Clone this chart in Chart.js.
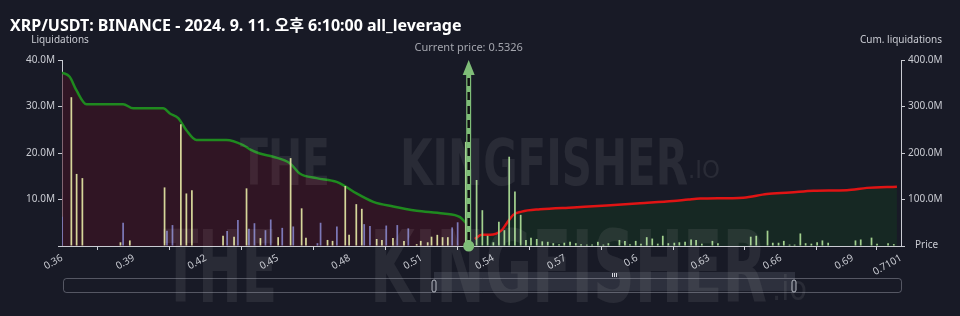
<!DOCTYPE html>
<html>
<head>
<meta charset="utf-8">
<script src="https://cdn.jsdelivr.net/npm/chart.js@4.4.1/dist/chart.umd.min.js"></script>
<style>
  html, body { margin: 0; padding: 0; background: #181a26; }
  #wrap { width: 960px; height: 316px; position: relative; }
</style>
</head>
<body>
<div id="wrap"><canvas id="liqChart"></canvas></div>
<script>
const chartTitle = 'XRP/USDT: BINANCE - 2024. 9. 11. 오후 6:10:00 all_leverage';
const currentPrice = 0.5326;
const markerPrice = 0.5297; // bin where the price arrow is drawn
const priceTicks = [0.36, 0.39, 0.42, 0.45, 0.48, 0.51, 0.54, 0.57, 0.6, 0.63, 0.66, 0.69, 0.7101];

// long liquidations (M)
const longPrices = [0.3639, 0.3661, 0.3685, 0.3844, 0.3883, 0.4028, 0.4096, 0.4119, 0.4142, 0.4272, 0.4318, 0.4370,
  0.4428, 0.4502, 0.4554, 0.4600, 0.4618, 0.4708, 0.4729, 0.4782, 0.4798, 0.4828, 0.4851, 0.4913, 0.4935, 0.4981,
  0.5027, 0.5080, 0.5097, 0.5126, 0.5142, 0.5166, 0.5188, 0.5210];
const longValues = [32.0, 15.5, 14.6, 0.8, 1.2, 12.6, 26.2, 11.3, 12.0, 2.2, 2.0, 12.4,
  1.7, 1.9, 18.9, 8.1, 1.8, 1.3, 1.1, 12.9, 2.4, 9.0, 8.0, 1.5, 1.3, 1.7,
  1.1, 0.4, 1.1, 0.8, 2.0, 2.4, 1.9, 1.9];

// high leverage long liquidations (M)
const highLevPrices = [0.3600, 0.3855, 0.4038, 0.4061, 0.4289, 0.4334, 0.4380, 0.4403, 0.4449, 0.4471, 0.4519,
  0.4565, 0.4666, 0.4679, 0.4747, 0.4861, 0.4885, 0.4953, 0.4999, 0.5045, 0.5228, 0.5251];
const highLevValues = [6.3, 5.0, 3.3, 4.5, 3.2, 5.6, 3.7, 4.9, 3.4, 5.7, 3.9,
  4.2, 0.6, 5.0, 4.2, 4.7, 4.3, 4.4, 4.5, 3.8, 4.0, 5.1];

// short liquidations (M)
const shortPrices = [0.5285, 0.5330, 0.5354, 0.5376, 0.5400, 0.5423, 0.5446, 0.5466, 0.5490, 0.5514, 0.5536, 0.5557,
  0.5581, 0.5604, 0.5627, 0.5650, 0.5674, 0.5696, 0.5720, 0.5744, 0.5766, 0.5790, 0.5812, 0.5836, 0.5859, 0.5880,
  0.5926, 0.5949, 0.5970, 0.5994, 0.6016, 0.6040, 0.6063, 0.6086, 0.6107, 0.6130, 0.6155, 0.6176, 0.6200, 0.6225,
  0.6246, 0.6270, 0.6314, 0.6337, 0.6474, 0.6497, 0.6544, 0.6566, 0.6590, 0.6612, 0.6636, 0.6657, 0.6681, 0.6703,
  0.6727, 0.6751, 0.6773, 0.6797, 0.6911, 0.6933, 0.6978, 0.7001, 0.7047, 0.7071];
const shortValues = [22.4, 14.2, 7.7, 2.2, 0.8, 5.2, 3.4, 19.2, 11.7, 6.7, 1.3, 1.8,
  1.5, 1.0, 0.9, 0.6, 0.4, 0.7, 0.9, 0.6, 0.4, 0.3, 0.3, 0.9, 0.3, 0.6,
  1.3, 1.1, 0.4, 1.1, 0.5, 1.9, 1.6, 0.5, 2.2, 0.6, 0.7, 0.8, 0.9, 1.4,
  1.3, 0.5, 1.1, 0.6, 2.0, 2.2, 3.3, 0.7, 0.7, 1.1, 0.3, 0.3, 2.7, 0.6,
  0.5, 0.8, 1.2, 0.7, 1.2, 1.4, 1.8, 0.5, 0.6, 0.4];

// cumulative liquidations (M)
const longCumPrices = [0.3600, 0.3632, 0.3660, 0.3702, 0.3855, 0.3897, 0.4022, 0.4050, 0.4085, 0.4119, 0.4161, 0.4286,
  0.4356, 0.4384, 0.4425, 0.4481, 0.4551, 0.4592, 0.4662, 0.4746, 0.4780, 0.4829, 0.4899, 0.4982, 0.5080, 0.5191,
  0.5261, 0.5286];
const longCumValues = [373, 364, 335, 305, 305, 296, 296, 285, 275, 249, 228, 228,
  217, 208, 199, 192, 178, 156, 146, 138, 129, 113, 95, 85, 76, 70,
  62, 49];
const shortCumPrices = [0.5323, 0.5351, 0.5386, 0.5435, 0.5456, 0.5483, 0.5518, 0.5595, 0.5734, 0.5873, 0.6012,
  0.6151, 0.6214, 0.6263, 0.6443, 0.6541, 0.6638, 0.6736, 0.6875, 0.6959, 0.7084];
const shortCumValues = [15, 24, 24, 34, 49, 67, 74, 79, 83, 87, 92,
  97, 100, 102, 104, 112, 115, 119, 120, 125, 127.5];

const toPoints = (xs, ys) => xs.map((x, i) => ({ x: x, y: ys[i] }));
const fmtM = (v) => v === 0 ? '' : v.toFixed(1) + 'M';
const FONT = '"Noto Sans", "Noto Sans CJK KR", sans-serif';

function drawMark(ctx, text, x, baseline, size, width, weight) {
  ctx.font = `${weight} ${size}px "DejaVu Sans", sans-serif`;
  const w = ctx.measureText(text).width;
  ctx.save();
  ctx.translate(x, baseline);
  ctx.scale(width / w, 1);
  ctx.fillText(text, 0, 0);
  ctx.restore();
}

const decorPlugin = {
  id: 'decor',
  afterDatasetsDraw(chart) {
    const { ctx, chartArea, scales } = chart;
    // watermark
    ctx.save();
    ctx.fillStyle = 'rgba(255,255,255,0.075)';
    ctx.textBaseline = 'alphabetic';
    ctx.textAlign = 'left';
    drawMark(ctx, 'THE', 240, 185, 64, 90, 'bold');
    drawMark(ctx, 'KINGFISHER', 400, 185, 64, 288, 'bold');
    drawMark(ctx, '.IO', 688, 178, 24, 32, 'normal');
    drawMark(ctx, 'THE', 163, 302, 100, 114, 'bold');
    drawMark(ctx, 'KINGFISHER', 370, 302, 100, 397, 'bold');
    drawMark(ctx, '.io', 772, 300, 34, 35, 'normal');
    ctx.restore();

    // current price arrow
    const x = scales.x.getPixelForValue(markerPrice);
    const yB = chartArea.bottom;
    const yT = chartArea.top;
    ctx.save();
    ctx.strokeStyle = '#7fbd78';
    ctx.fillStyle = '#7fbd78';
    ctx.lineWidth = 5;
    ctx.beginPath();
    ctx.moveTo(x, yB);
    ctx.lineTo(x, yT + 12);
    ctx.stroke();
    ctx.beginPath();
    ctx.moveTo(x, yT);
    ctx.lineTo(x - 6, yT + 15);
    ctx.lineTo(x + 6, yT + 15);
    ctx.closePath();
    ctx.fill();
    ctx.strokeStyle = '#111';
    ctx.lineWidth = 2.5;
    ctx.setLineDash([8, 6]);
    ctx.beginPath();
    ctx.moveTo(x, yB - 6);
    ctx.lineTo(x, yT + 16);
    ctx.stroke();
    ctx.setLineDash([]);
    ctx.beginPath();
    ctx.arc(x, yB, 5.5, 0, Math.PI * 2);
    ctx.fill();
    ctx.fillStyle = '#a4a6ae';
    ctx.font = `11px ${FONT}`;
    ctx.textAlign = 'center';
    ctx.textBaseline = 'middle';
    ctx.fillText('Current price: ' + currentPrice, x, yT - 12);
    ctx.restore();
  },
  afterDraw(chart) {
    const { ctx, chartArea } = chart;
    ctx.save();
    // title + axis names
    ctx.fillStyle = '#ffffff';
    ctx.font = `bold 16px ${FONT}`;
    ctx.textAlign = 'left';
    ctx.textBaseline = 'alphabetic';
    ctx.fillText(chartTitle, 10, 31);
    ctx.fillStyle = '#c9cbd2';
    ctx.font = `10px ${FONT}`;
    ctx.textAlign = 'center';
    ctx.textBaseline = 'middle';
    ctx.fillText('Liquidations', chartArea.left - 2, 40);
    ctx.fillText('Cum. liquidations', chartArea.right, 40);
    ctx.textAlign = 'left';
    ctx.fillText('Price', 915, chartArea.bottom - 1);

    // data zoom slider
    ctx.fillStyle = 'rgba(190,200,220,0.13)';
    ctx.fillRect(434, 272, 361, 19);
    ctx.strokeStyle = 'rgba(200,204,215,0.35)';
    ctx.lineWidth = 1;
    ctx.beginPath();
    ctx.roundRect(63.5, 278.5, 838, 14, 3);
    ctx.stroke();
    ctx.fillStyle = '#2a2d3a';
    ctx.strokeStyle = '#b8bbc4';
    [434, 794].forEach(hx => {
      ctx.beginPath();
      ctx.roundRect(hx - 2, 280, 4, 12, 2);
      ctx.fill();
      ctx.stroke();
    });
    ctx.fillStyle = '#d8dae0';
    [612, 614, 616].forEach(mx => ctx.fillRect(mx, 273, 1, 4));
    ctx.restore();
  }
};

const tickFont = { family: FONT, size: 10 };
const axisColor = '#c9cbd2';

const barStyle = { yAxisID: 'y', maxBarThickness: 2, grouped: false, order: 1 };
const cumStyle = { type: 'line', yAxisID: 'y2', borderWidth: 2.5, pointRadius: 0,
  cubicInterpolationMode: 'monotone', fill: 'origin', order: 3 };

new Chart(document.getElementById('liqChart'), {
  type: 'bar',
  data: {
    datasets: [
      Object.assign({
        data: toPoints(longCumPrices, longCumValues),
        borderColor: '#1f8a1f',
        backgroundColor: 'rgba(70,18,34,0.55)'
      }, cumStyle),
      Object.assign({
        data: toPoints(shortCumPrices, shortCumValues),
        borderColor: '#e01414',
        backgroundColor: 'rgba(22,50,34,0.6)'
      }, cumStyle),
      Object.assign({ data: toPoints(longPrices, longValues), backgroundColor: '#d6d69a' }, barStyle),
      Object.assign({ data: toPoints(highLevPrices, highLevValues), backgroundColor: '#7c78b8' }, barStyle),
      Object.assign({ data: toPoints(shortPrices, shortValues), backgroundColor: '#a2d18e' }, barStyle)
    ]
  },
  options: {
    responsive: true,
    maintainAspectRatio: false,
    animation: false,
    layout: { padding: { top: 60, left: 0, right: 0, bottom: 0 } },
    plugins: { legend: { display: false }, tooltip: { enabled: false } },
    scales: {
      x: {
        type: 'linear',
        offset: false,
        min: 0.36,
        max: 0.7101,
        afterBuildTicks: (s) => { s.ticks = priceTicks.map(v => ({ value: v })); },
        afterFit: (s) => { s.height = 70; },
        ticks: {
          color: axisColor,
          font: tickFont,
          minRotation: 30,
          maxRotation: 30,
          padding: 2,
          callback: (v) => String(parseFloat(Number(v).toFixed(4)))
        },
        grid: { display: true, drawOnChartArea: false, tickLength: 4, color: axisColor },
        border: { color: axisColor }
      },
      y: {
        position: 'left',
        min: 0,
        max: 40,
        afterFit: (s) => { s.width = 62; },
        ticks: { stepSize: 10, color: axisColor, font: tickFont, padding: 3, callback: fmtM },
        grid: { display: true, drawOnChartArea: false, tickLength: 4, color: axisColor },
        border: { color: axisColor }
      },
      y2: {
        position: 'right',
        min: 0,
        max: 400,
        afterFit: (s) => { s.width = 59; },
        ticks: { stepSize: 100, color: axisColor, font: tickFont, padding: 3, callback: fmtM },
        grid: { display: true, drawOnChartArea: false, tickLength: 4, color: axisColor },
        border: { color: axisColor }
      }
    }
  },
  plugins: [decorPlugin]
});
</script>
</body>
</html>
